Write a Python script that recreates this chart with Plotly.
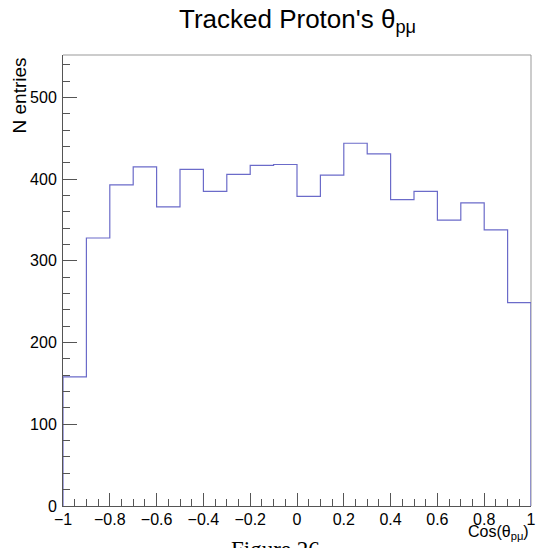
import plotly.graph_objects as go

# Histogram data: 20 bins in cos(theta_pmu) from -1 to 1
x_low = -1.0
bin_width = 0.1
counts = [158, 328, 393, 415, 366, 412, 385, 406, 417, 418,
          379, 405, 444, 431, 375, 385, 350, 371, 338, 249]

edges = [round(x_low + i * bin_width, 10) for i in range(len(counts) + 1)]
xs = [edges[0]] + edges + [edges[-1]]
ys = [0] + counts + [counts[-1], 0]

fig = go.Figure()
fig.add_trace(go.Scatter(
    x=xs, y=ys, mode="lines", line_shape="hv",
    line=dict(color="#6b6bc9", width=1.2), hoverinfo="skip", showlegend=False,
))

W, H = 548, 548
L, R, T, B = 63, 12, 55, 42
ph = H - T - B
pw = W - L - R

font = "Liberation Sans, Arial, sans-serif"
fig.update_layout(
    width=W, height=H,
    margin=dict(l=L, r=R, t=T, b=B, pad=0),
    paper_bgcolor="white", plot_bgcolor="white",
    font=dict(family=font, size=16, color="black"),
    title=dict(text="Tracked Proton's θ<sub>pμ</sub>", x=(300 - L) / pw, xref="paper",
               xanchor="center", y=1 - 28 / H, yanchor="bottom",
               font=dict(family=font, size=26, color="black")),
    xaxis=dict(range=[-1, 1], dtick=0.2, tick0=-1, ticks="inside", ticklen=13, tickwidth=1,
               tickcolor="#555", showline=True, linecolor="#555", linewidth=1,
               showgrid=False, zeroline=False, ticklabelstandoff=-1,
               minor=dict(dtick=0.05, ticks="inside", ticklen=7, tickcolor="#555", showgrid=False),
               tickfont=dict(size=16)),
    yaxis=dict(range=[0, 552], dtick=100, tick0=0, ticks="inside", ticklen=14, tickwidth=1,
               tickcolor="#555", showline=True, linecolor="#555", linewidth=1,
               showgrid=False, zeroline=False, ticklabelstandoff=2,
               minor=dict(dtick=20, ticks="inside", ticklen=7, tickcolor="#555", showgrid=False),
               tickfont=dict(size=16)),
    shapes=[
        dict(type="line", xref="paper", yref="paper", x0=0, x1=1, y0=1, y1=1, layer="below",
             line=dict(color="#999", width=1)),
        dict(type="line", xref="paper", yref="paper", x0=1, x1=1, y0=0, y1=1, layer="below",
             line=dict(color="#999", width=1)),
    ],
    annotations=[
        dict(text="N entries", textangle=-90, xref="paper", yref="paper",
             x=-44 / pw, xanchor="center", y=1 - 0 / ph, yanchor="top",
             showarrow=False, font=dict(family=font, size=19)),
        dict(text="Cos(θ<sub>pμ</sub>)", xref="paper", yref="paper",
             x=1, xanchor="right", y=-15 / ph, yanchor="top",
             showarrow=False, font=dict(family=font, size=16)),
        dict(text="Figure 26", xref="paper", yref="paper",
             x=(278 - L) / pw, xanchor="center", y=-29 / ph, yanchor="top",
             showarrow=False, font=dict(family="Liberation Serif, Times New Roman, serif", size=23)),
    ],
)

fig.write_html("out.html")
